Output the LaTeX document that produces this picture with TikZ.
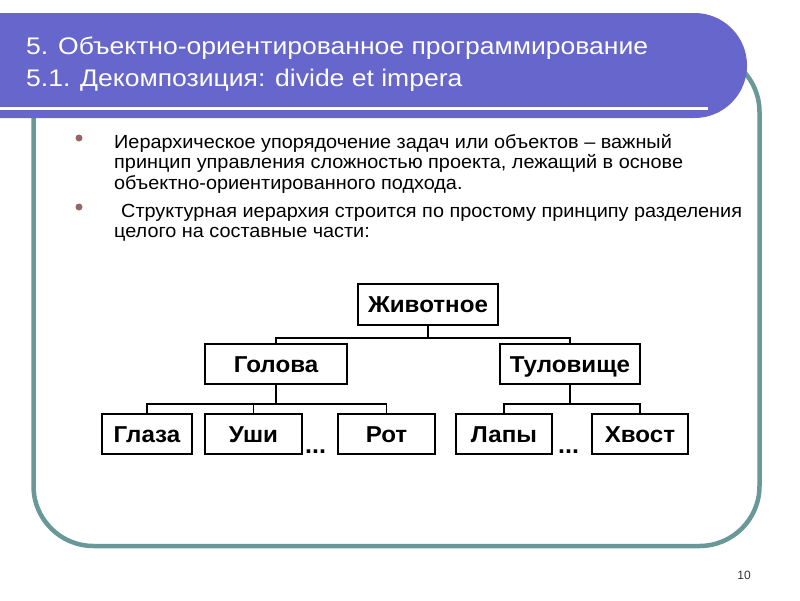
\documentclass[tikz,border=0pt]{standalone}
\usepackage{fontspec}
\setmainfont{Liberation Sans}
\usepackage{graphicx}
\definecolor{bannercol}{RGB}{102,102,204}
\definecolor{framecol}{RGB}{104,152,152}
\definecolor{bulletcol}{RGB}{153,102,102}
\newcommand{\sx}[1]{\scalebox{1.05}[1]{#1}}
\newcommand{\sxb}[1]{\scalebox{1.045}[1]{#1}}
\newcommand{\sxt}[1]{\scalebox{1.105}[1]{#1}}
\begin{document}
\begin{tikzpicture}[x=1pt,y=-1pt,
  box/.style={draw=black, line width=1.4pt, inner sep=0pt, minimum height=40pt,
    text height=16pt, text depth=0pt,
    font=\fontsize{23}{26}\selectfont\bfseries},
  conn/.style={draw=black, line width=1.2pt},
  bodytext/.style={anchor=base west, inner sep=0pt, font=\fontsize{19}{22}\selectfont},
  titletext/.style={anchor=base west, inner sep=0pt, text=white, font=\fontsize{24}{28}\selectfont},
  bul/.style={circle, fill=bulletcol, inner sep=0pt, minimum size=7pt},
  dotsn/.style={anchor=base west, inner sep=0pt, font=\fontsize{25}{27}\selectfont\bfseries}]
\useasboundingbox (0,0) rectangle (800,600);
\fill[white] (0,0) rectangle (800,600);
% frame
\draw[framecol, line width=4.5pt, rounded corners=60pt] (33.5,52) rectangle (759.5,546);
% banner
\fill[bannercol] (0,13) -- (694.5,13) .. controls (723.5,13) and (747,36.5) .. (747,65.5)
  .. controls (747,94.5) and (723.5,118) .. (694.5,118) -- (0,118) -- cycle;
\draw[white, line width=3pt] (0,108) -- (708,108);
\node[titletext] (t1) at (26,54) {\sxt{5. Объектно-ориентированное программирование}};
\node[titletext] (t2) at (26,86) {\sxt{5.1. Декомпозиция: divide et impera}};
% bullets
\node[bul] (b1) at (79,138) {};
\node[bul] (b2) at (79,207) {};
\node[bodytext] (l1) at (114,148) {\sxb{Иерархическое упорядочение задач или объектов – важный}};
\node[bodytext] (l2) at (114,168) {\sxb{принцип управления сложностью проекта, лежащий в основе}};
\node[bodytext] (l3) at (114,189) {\sxb{объектно-ориентированного подхода.}};
\node[bodytext] (l4) at (121,217) {\sxb{Структурная иерархия строится по простому принципу разделения}};
\node[bodytext] (l5) at (114,237) {\sxb{целого на составные части:}};
% tree
\node[box, minimum width=140pt, minimum height=41pt] (anim) at (428,304.5) {\sx{Животное}};
\node[box, minimum width=142pt] (head) at (276,364) {\sx{Голова}};
\node[box, minimum width=140pt] (body) at (570,364) {\sx{Туловище}};
\node[box, minimum width=90pt] (eyes) at (147,434) {\sx{Глаза}};
\node[box, minimum width=97pt] (ears) at (253.5,434) {\sx{Уши}};
\node[box, minimum width=97pt] (mouth) at (386.5,434) {\sx{Рот}};
\node[box, minimum width=96pt] (paws) at (504,434) {\sx{Лапы}};
\node[box, minimum width=96pt] (tail) at (640,434) {\sx{Хвост}};
\coordinate (j0) at (428,338);
\coordinate (j1) at (276,404);
\coordinate (j2) at (570,404);
\draw[conn] (anim.south) -- (j0);
\draw[conn] (head.north) |- (j0) -| (body.north);
\draw[conn] (head.south) -- (j1);
\draw[conn] (eyes.north) |- (j1) -| (mouth.north);
\draw[conn] (ears.north) -- (ears.north |- j1);
\draw[conn] (body.south) -- (j2);
\draw[conn] (paws.north) |- (j2) -| (tail.north);
\node[dotsn] (d1) at (305,453) {...};
\node[dotsn] (d2) at (558,453) {...};
% page number
\node[font=\fontsize{12}{14}\selectfont, text=black!80] (pg) at (744,575) {10};
\end{tikzpicture}
\end{document}
